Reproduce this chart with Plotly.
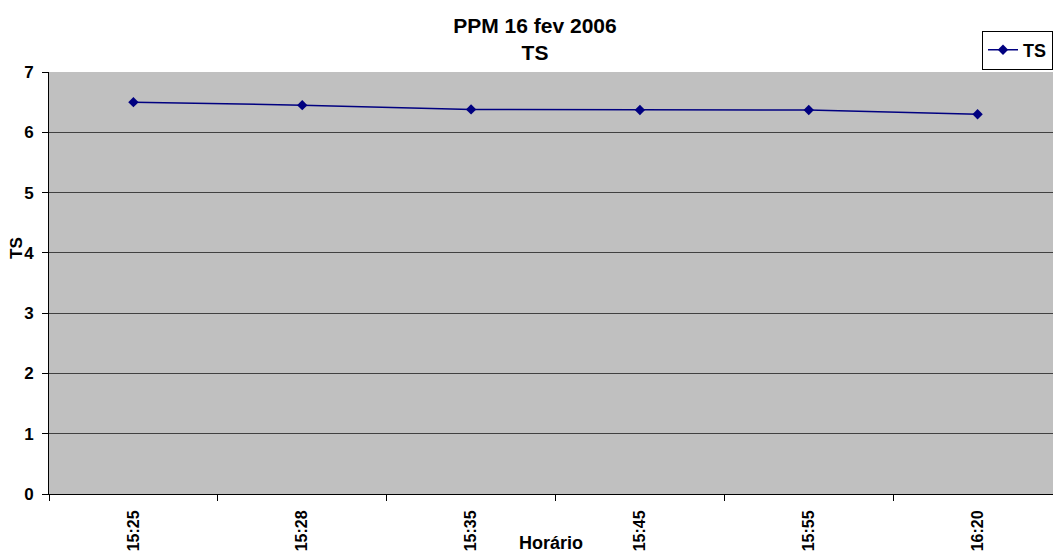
import plotly.graph_objects as go

horarios = ["15:25", "15:28", "15:35", "15:45", "15:55", "16:20"]
ts = [6.50, 6.45, 6.38, 6.37, 6.37, 6.30]
y_ticks = [0, 1, 2, 3, 4, 5, 6, 7]

font_family = "Liberation Sans, Arial, sans-serif"

# the original chart is wider than the visible window; its right edge is cut off
W, H = 1075, 554
L, R, T, B = 49, 13, 72, 60
pw, ph = W - L - R, H - T - B

fig = go.Figure()
fig.add_trace(go.Scatter(
    x=horarios, y=ts, name="<b>TS</b>", mode="lines+markers",
    line=dict(color="#000080", width=1.5),
    marker=dict(symbol="diamond", size=8, color="#000080"),
))

fig.update_layout(
    width=W, height=H,
    margin=dict(l=L, r=R, t=T, b=B, autoexpand=False),
    paper_bgcolor="white",
    plot_bgcolor="#C0C0C0",
    font=dict(family=font_family, color="black", size=16),
    title=dict(
        text="<b>PPM 16 fev 2006<br>TS</b>",
        x=535 / W, xanchor="center", xref="container",
        y=1 - 33 / H, yanchor="top", yref="container",
        font=dict(size=21, family=font_family),
    ),
    showlegend=True,
    legend=dict(
        xref="container", yref="container",
        x=982 / W, y=1 - 50 / H, xanchor="left", yanchor="middle",
        bordercolor="black", borderwidth=1, bgcolor="white",
        font=dict(size=18, family=font_family),
        itemwidth=30, tracegroupgap=0,
    ),
)

fig.update_xaxes(
    type="category",
    range=[-0.5, len(horarios) - 0.5],
    tickvals=horarios,
    ticktext=[f"<b>{h}</b>" for h in horarios],
    tickangle=-90,
    tickfont=dict(size=16),
    ticklabelstandoff=9,
    ticks="outside", tickson="boundaries", ticklen=6, tickcolor="black",
    showline=True, linecolor="black", linewidth=1,
    showgrid=False, automargin=False,
)
fig.update_yaxes(
    range=[0, 7],
    tickvals=y_ticks,
    ticktext=[f"<b>{v}</b>" for v in y_ticks],
    tickfont=dict(size=17),
    ticklabelstandoff=5,
    ticks="outside", ticklen=6, tickcolor="black",
    showline=True, linecolor="black", linewidth=1,
    showgrid=True, gridcolor="#404040", gridwidth=1,
    zeroline=False, automargin=False,
)

fig.add_annotation(
    text="<b>Horário</b>", xref="paper", yref="paper",
    x=(551 - L) / pw, y=-(543 - (T + ph)) / ph,
    xanchor="center", yanchor="middle",
    showarrow=False, font=dict(size=18),
)
fig.add_annotation(
    text="<b>TS</b>", xref="paper", yref="paper",
    x=-(L - 16) / pw, y=(T + ph - 248) / ph,
    xanchor="center", yanchor="middle",
    textangle=-90, showarrow=False, font=dict(size=17),
)

fig.write_html(
    "out.html",
    config={"displayModeBar": False},
    post_script=(
        "document.body.style.margin='0';"
        "document.body.style.overflow='hidden';"
        "document.documentElement.style.overflow='hidden';"
    ),
)
